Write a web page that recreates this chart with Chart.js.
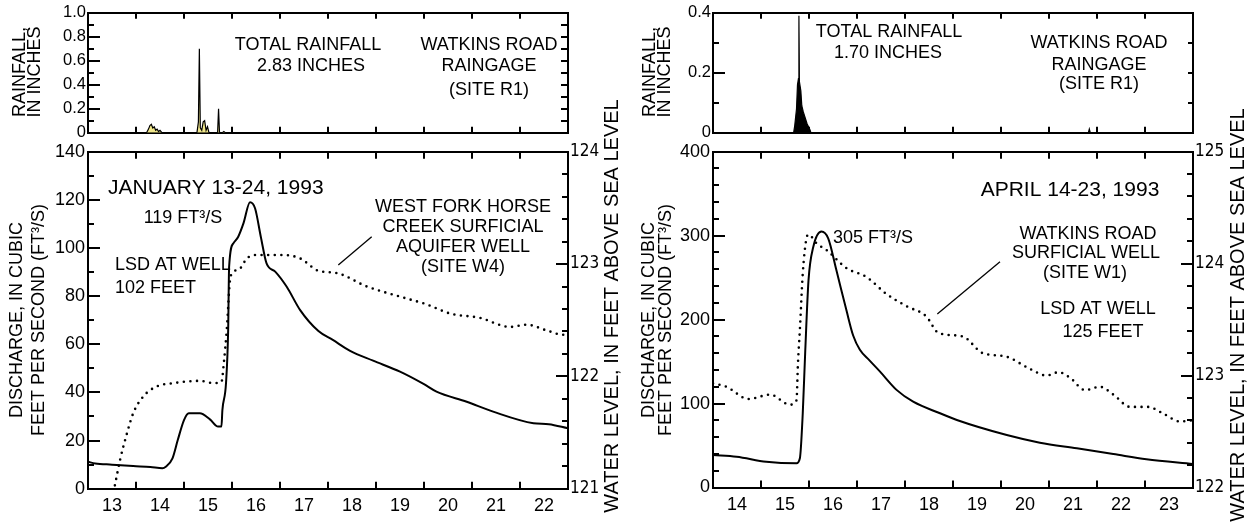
<!DOCTYPE html>
<html lang="en">
<head>
<meta charset="UTF-8">
<title>Discharge, water level and rainfall, 1993</title>
<script src="https://cdn.jsdelivr.net/npm/chart.js"></script>
<style>
  body { margin: 0; background: #fff; }
  #wrap { position: relative; width: 1247px; height: 527px; overflow: hidden; }
  canvas { position: absolute; }
</style>
</head>
<body>
<div id="wrap">
  <canvas id="janFlow" width="625" height="527" style="left:0;top:0"></canvas>
  <canvas id="aprFlow" width="625" height="527" style="left:625px;top:0"></canvas>
  <canvas id="janRain" width="625" height="145" style="left:0;top:0"></canvas>
  <canvas id="aprRain" width="625" height="145" style="left:625px;top:0"></canvas>
</div>
<script>
// ---- January 13-24, 1993 ----
const janDays = [13, 14, 15, 16, 17, 18, 19, 20, 21, 22];
const janRainTicks = [0, 0.2, 0.4, 0.6, 0.8, 1.0];
const janRainLabels = ['0', '0.2', '0.4', '0.6', '0.8', '1.0'];
const janRainT  = [14.22, 14.26, 14.29, 14.32, 14.35, 14.38, 14.41, 14.44, 14.47, 14.5, 14.54,
                   15.27, 15.3, 15.32, 15.34, 15.37, 15.4, 15.43, 15.46, 15.49, 15.52,
                   15.7, 15.72, 15.74, 15.8, 15.83, 15.86];
const janRainIn = [0, 0.03, 0.06, 0.07, 0.04, 0.05, 0.02, 0.03, 0.01, 0.02, 0,
                   0, 0.09, 0.70, 0.04, 0.02, 0.09, 0.10, 0.02, 0.05, 0,
                   0, 0.20, 0, 0, 0.01, 0];
const janFlowT = [13.0, 13.15, 13.5, 13.94, 14.3, 14.55, 14.62, 14.76, 14.87, 15.0, 15.1, 15.33, 15.54,
                  15.71, 15.78, 15.8, 15.875, 15.92, 15.94, 16.03, 16.13, 16.24, 16.375, 16.48, 16.6,
                  16.72, 16.9, 17.14, 17.42, 17.8, 18.1, 18.46, 18.94, 19.5, 19.99, 20.26, 20.89,
                  21.44, 22.28, 22.6, 23.0];
const janFlowQ = [11.2, 10.5, 10, 9.4, 9, 8.5, 9.1, 12.6, 20.2, 28.5, 31.3, 31.3, 28.8,
                  25.8, 25.8, 32.7, 43.8, 65.9, 92.2, 102, 104.7, 110.3, 119, 116.5, 104.7,
                  93.6, 90.2, 83.9, 74.2, 65.5, 61.8, 57.3, 53.2, 48.6, 43.5, 40.3, 36.1,
                  32, 27.2, 26.8, 25.1];
const janWellT = [13.56, 13.67, 13.81, 13.94, 14.15, 14.43, 14.78, 15.33, 15.61, 15.78, 15.83, 15.89,
                  15.96, 16.03, 16.17, 16.31, 16.5, 17.07, 17.42, 17.8, 18.18, 18.81, 19.5, 20.06,
                  20.54, 21.17, 21.79, 22.14, 22.55, 22.9, 23.0];
const janWellH = [121.03, 121.26, 121.49, 121.67, 121.82, 121.91, 121.94, 121.96, 121.94, 121.95, 122.12, 122.41,
                  122.86, 122.93, 122.96, 123.05, 123.08, 123.08, 123.05, 122.94, 122.92, 122.80, 122.71, 122.64,
                  122.56, 122.52, 122.44, 122.46, 122.41, 122.37, 122.37];

// ---- April 14-23, 1993 ----
const aprDays = [14, 15, 16, 17, 18, 19, 20, 21, 22, 23];
const aprRainTicks = [0, 0.2, 0.4];
const aprRainLabels = ['0', '0.2', '0.4'];
const aprRainT  = [15.68, 15.70, 15.74, 15.76, 15.78, 15.79, 15.80, 15.83, 15.85, 15.88, 15.92,
                   15.96, 15.99, 16.02, 16.04, 21.82, 21.84, 21.86];
const aprRainIn = [0, 0.02, 0.08, 0.16, 0.18, 0.39, 0.17, 0.14, 0.09, 0.07, 0.05,
                   0.03, 0.02, 0.01, 0, 0, 0.012, 0];
const aprFlowT = [14.0, 14.49, 15.11, 15.74, 15.81, 15.87, 15.92, 15.99, 16.09, 16.26, 16.4, 16.57,
                  16.78, 16.92, 17.06, 17.25, 17.48, 17.83, 18.17, 18.73, 19.08, 20.12, 20.81, 21.58,
                  22.34, 23.03, 24.0];
const aprFlowQ = [38.7, 36.7, 30.7, 28.8, 34.8, 88.4, 160, 247, 286.8, 305, 296.8, 259,
                  211, 181, 164, 152, 138, 116, 102.2, 88.4, 80.4, 62.5, 53.4, 46.7,
                  39.9, 33.6, 28];
const aprWellT = [14.0, 14.28, 14.74, 15.19, 15.6, 15.74, 15.77, 15.81, 15.87, 15.94, 15.99, 16.16,
                  16.37, 16.78, 17.2, 17.61, 18.03, 18.44, 18.7, 19.2, 19.62, 20.1, 20.6, 20.95,
                  21.2, 21.44, 21.75, 22.06, 22.34, 22.69, 23.07, 23.38, 23.73, 24.0];
const aprWellH = [122.93, 122.9, 122.79, 122.83, 122.74, 122.78, 123.11, 123.41, 123.91, 124.21, 124.26, 124.18,
                  124.12, 123.96, 123.88, 123.73, 123.62, 123.53, 123.38, 123.35, 123.2, 123.17, 123.06, 123.0,
                  123.03, 122.98, 122.87, 122.9, 122.83, 122.72, 122.72, 122.66, 122.59, 122.6];

const FONT = '"Liberation Sans", Arial, Helvetica, sans-serif';
const NARROW = '"Liberation Sans Narrow", "Arial Narrow", "DejaVu Sans Condensed", sans-serif';

Chart.defaults.font.family = FONT;
Chart.defaults.color = '#000';

const pts = (xs, ys) => xs.map((x, i) => ({ x: x, y: ys[i] }));

// an axis that only draws its border line and inward tick marks
// (negative tickLength turns the marks into the plot)
function tickAxis(position, len, extra) {
  const horiz = position === 'top' || position === 'bottom';
  return Object.assign({
    type: 'linear',
    position: position,
    weight: 0,
    grid: { display: true, drawOnChartArea: false, drawTicks: true, tickLength: -len, color: '#000', lineWidth: 2 },
    border: { display: true, width: 2, color: '#000' },
    ticks: { display: false },
    afterFit: s => { if (horiz) s.height = 0; else s.width = 0; }
  }, extra);
}

// an axis that only prints labels
function labelAxis(position, width, extra) {
  return Object.assign({
    type: 'linear',
    position: position,
    weight: 1,
    grid: { display: false, drawTicks: false },
    border: { display: false },
    afterFit: s => { s.width = width; }
  }, extra);
}

const dayTicks = days => s => {
  s.ticks = [];
  for (let d = days[0]; d <= days[days.length - 1] + 1; d++) s.ticks.push({ value: d });
};

// axis titles, notes and leader lines
const notes = {
  id: 'notes',
  afterDraw(chart, args, o) {
    const ctx = chart.ctx;
    ctx.save();
    ctx.fillStyle = '#000';
    ctx.strokeStyle = '#000';
    ctx.textBaseline = 'middle';
    (o.texts || []).forEach(t => {
      ctx.save();
      ctx.font = (t.size || 18) + 'px ' + FONT;
      ctx.textAlign = t.align || 'center';
      ctx.translate(t.x, t.y);
      if (t.rot) ctx.rotate(-Math.PI / 2);
      ctx.fillText(t.text, 0, 0);
      ctx.restore();
    });
    ctx.lineWidth = 1.3;
    (o.lines || []).forEach(l => {
      ctx.beginPath();
      ctx.moveTo(l[0], l[1]);
      ctx.lineTo(l[2], l[3]);
      ctx.stroke();
    });
    ctx.restore();
  }
};

function rainChart(id, days, t, inches, ticks, labels, fillColor, rightLen, texts) {
  const lo = days[0], hi = days[days.length - 1] + 1;
  const yMin = ticks[0], yMax = ticks[ticks.length - 1];
  const fixedTicks = s => { s.ticks = ticks.map(v => ({ value: v })); };
  return new Chart(document.getElementById(id), {
    type: 'line',
    data: {
      datasets: [{
        data: pts(t, inches),
        xAxisID: 'x',
        yAxisID: 'y',
        borderColor: '#000',
        borderWidth: 1.2,
        backgroundColor: fillColor,
        fill: 'origin',
        pointRadius: 0,
        tension: 0
      }]
    },
    options: {
      responsive: false,
      animation: false,
      events: [],
      layout: { padding: { left: 0, top: 12.7, right: 57, bottom: 12.3 } },
      scales: {
        x: tickAxis('bottom', 6, { min: lo, max: hi, afterBuildTicks: dayTicks(days) }),
        xt: tickAxis('top', 6, { min: lo, max: hi, afterBuildTicks: dayTicks(days) }),
        yl: labelAxis('left', 88, {
          min: yMin, max: yMax,
          afterBuildTicks: fixedTicks,
          ticks: { padding: 2, font: { size: 16.5 }, callback: (v, i) => labels[i] }
        }),
        y: tickAxis('left', 12, { min: yMin, max: yMax, afterBuildTicks: fixedTicks }),
        ym: tickAxis('left', 6, { min: yMin, max: yMax, ticks: { display: false, stepSize: 0.1 } }),
        yr: tickAxis('right', rightLen, { min: yMin, max: yMax, ticks: { display: false, stepSize: 0.1 } })
      },
      plugins: {
        legend: { display: false },
        tooltip: { enabled: false },
        notes: { texts: texts }
      }
    },
    plugins: [notes]
  });
}

function flowChart(id, days, ft, fq, wt, wh, qMax, qStep, qMinor, hMin, bottomPad, texts, lines) {
  const lo = days[0], hi = days[days.length - 1] + 1;
  return new Chart(document.getElementById(id), {
    type: 'line',
    data: {
      datasets: [{
        data: pts(ft, fq),
        xAxisID: 'x',
        yAxisID: 'y',
        borderColor: '#000',
        borderWidth: 2,
        pointRadius: 0,
        cubicInterpolationMode: 'monotone',
        fill: false
      }, {
        data: pts(wt, wh),
        xAxisID: 'x',
        yAxisID: 'y2',
        borderColor: '#000',
        borderWidth: 2.6,
        borderDash: [0, 6.6],
        borderCapStyle: 'round',
        pointRadius: 0,
        cubicInterpolationMode: 'monotone',
        fill: false
      }]
    },
    options: {
      responsive: false,
      animation: false,
      events: [],
      layout: { padding: { left: 0, top: 151.7, right: 12, bottom: bottomPad } },
      scales: {
        x: tickAxis('bottom', 7, { min: lo, max: hi, afterBuildTicks: dayTicks(days) }),
        xt: tickAxis('top', 7, { min: lo, max: hi, afterBuildTicks: dayTicks(days) }),
        xl: {
          type: 'linear', position: 'bottom', weight: 1,
          min: lo, max: hi,
          grid: { display: false, drawTicks: false },
          border: { display: false },
          afterBuildTicks: s => { s.ticks = days.map(d => ({ value: d + 0.5 })); },
          afterFit: s => { s.height = 30; },
          ticks: {
            autoSkip: false, maxRotation: 0, padding: 7,
            font: { size: 18 },
            callback: (v, i) => String(days[i])
          }
        },
        yl: labelAxis('left', 88, {
          min: 0, max: qMax,
          ticks: { stepSize: qStep, padding: 3, font: { size: 18 } }
        }),
        y: tickAxis('left', 12, { min: 0, max: qMax, ticks: { display: false, stepSize: qStep } }),
        ym: tickAxis('left', 6, { min: 0, max: qMax, ticks: { display: false, stepSize: qMinor } }),
        y2l: labelAxis('right', 45, {
          min: hMin, max: hMin + 3,
          ticks: { stepSize: 1, padding: 2, font: { size: 17, family: NARROW } }
        }),
        y2: tickAxis('right', 12, { min: hMin, max: hMin + 3, ticks: { display: false, stepSize: 1 } }),
        y2m: tickAxis('right', 6, { min: hMin, max: hMin + 3, ticks: { display: false, stepSize: 0.2 } })
      },
      plugins: {
        legend: { display: false },
        tooltip: { enabled: false },
        notes: { texts: texts, lines: lines }
      }
    },
    plugins: [notes]
  });
}

flowChart('janFlow', janDays, janFlowT, janFlowQ, janWellT, janWellH, 140, 20, 10, 121, 8.3,
  [
    { text: 'DISCHARGE, IN CUBIC', x: 17.5, y: 320, rot: true },
    { text: 'FEET PER SECOND (FT³/S)', x: 39, y: 320, rot: true },
    { text: 'WATER LEVEL, IN FEET ABOVE SEA LEVEL', x: 612, y: 306, rot: true, size: 20 },
    { text: 'JANUARY 13-24, 1993', x: 108, y: 188, align: 'left', size: 21 },
    { text: '119 FT³/S', x: 183, y: 218 },
    { text: 'LSD AT WELL', x: 115, y: 265, align: 'left' },
    { text: '102 FEET', x: 115, y: 288, align: 'left' },
    { text: 'WEST FORK HORSE', x: 463, y: 207 },
    { text: 'CREEK SURFICIAL', x: 463, y: 227 },
    { text: 'AQUIFER WELL', x: 463, y: 247 },
    { text: '(SITE W4)', x: 463, y: 267 }
  ],
  [[371.7, 236.7, 338.3, 265]]);

flowChart('aprFlow', aprDays, aprFlowT, aprFlowQ, aprWellT, aprWellH, 400, 100, 20, 122, 9.5,
  [
    { text: 'DISCHARGE, IN CUBIC', x: 24, y: 320, rot: true },
    { text: 'FEET PER SECOND (FT³/S)', x: 41, y: 320, rot: true },
    { text: 'WATER LEVEL, IN FEET ABOVE SEA LEVEL', x: 613, y: 315, rot: true, size: 20 },
    { text: 'APRIL 14-23, 1993', x: 445, y: 190, size: 21 },
    { text: 'WATKINS ROAD', x: 463, y: 234 },
    { text: 'SURFICIAL WELL', x: 461, y: 253 },
    { text: '(SITE W1)', x: 460, y: 273 },
    { text: 'LSD AT WELL', x: 473, y: 309 },
    { text: '125 FEET', x: 478, y: 332 },
    { text: '305 FT³/S', x: 208, y: 238, align: 'left' }
  ],
  [[375, 261.7, 312.3, 314]]);

rainChart('janRain', janDays, janRainT, janRainIn, janRainTicks, janRainLabels, '#f1e88c', 7,
  [
    { text: 'RAINFALL,', x: 20, y: 72, rot: true },
    { text: 'IN INCHES', x: 35, y: 72, rot: true },
    { text: 'TOTAL RAINFALL', x: 308, y: 45 },
    { text: '2.83 INCHES', x: 311, y: 66 },
    { text: 'WATKINS ROAD', x: 489, y: 45 },
    { text: 'RAINGAGE', x: 489, y: 66 },
    { text: '(SITE R1)', x: 489, y: 90 }
  ]);

rainChart('aprRain', aprDays, aprRainT, aprRainIn, aprRainTicks, aprRainLabels, '#000', 5,
  [
    { text: 'RAINFALL,', x: 25, y: 72, rot: true },
    { text: 'IN INCHES', x: 40, y: 72, rot: true },
    { text: 'TOTAL RAINFALL', x: 264, y: 32 },
    { text: '1.70 INCHES', x: 263, y: 53 },
    { text: 'WATKINS ROAD', x: 474, y: 43 },
    { text: 'RAINGAGE', x: 474, y: 65 },
    { text: '(SITE R1)', x: 474, y: 84 }
  ]);
</script>
</body>
</html>
